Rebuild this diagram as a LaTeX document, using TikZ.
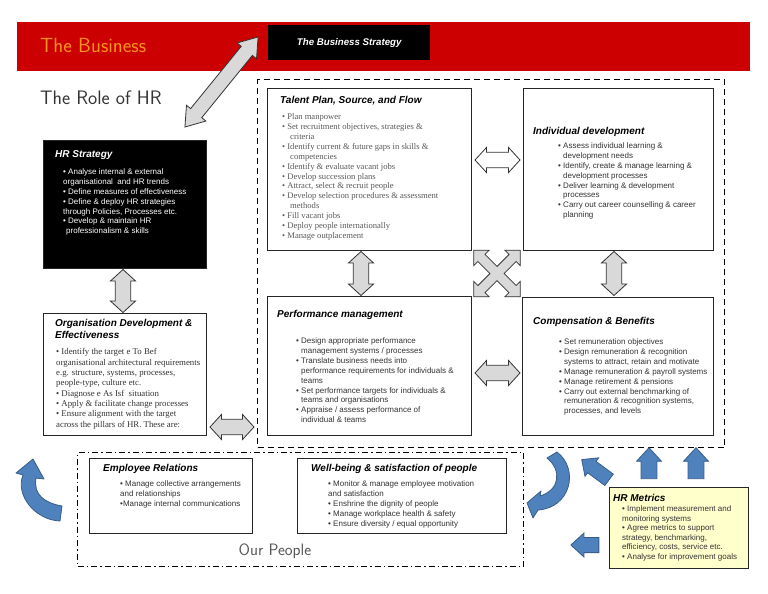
\documentclass[tikz,border=0pt]{standalone}
\usepackage{fontspec}
\setmainfont{Liberation Sans}
\newfontfamily\serifface{Liberation Serif}
\usetikzlibrary{shapes.arrows,calc}
\definecolor{bannerred}{HTML}{CC0000}
\definecolor{bizorange}{HTML}{F7941D}
\definecolor{txtgray}{HTML}{333333}
\definecolor{lightgray2}{HTML}{555555}
\definecolor{arrowgray}{HTML}{D9D9D9}
\definecolor{blueA}{HTML}{4F81BD}
\definecolor{blueB}{HTML}{385D8A}
\definecolor{metricsyellow}{HTML}{FFFFCC}
\tikzset{
 panel/.style={draw=black!85, line width=0.9pt, fill=white, inner sep=0pt, anchor=north west},
 ttl/.style={font=\fontsize{10}{12}\selectfont\bfseries\itshape, inner sep=0pt, anchor=west},
 body/.style={font=\fontsize{8}{9.9}\selectfont, text=txtgray, align=left, inner sep=0pt, anchor=north west},
 sbody/.style={font=\serifface\fontsize{8.6}{9.9}\selectfont, text=txtgray, align=left, inner sep=0pt, anchor=north west},
 garrow/.style={double arrow, draw=black!80, line width=0.8pt, fill=arrowgray, inner xsep=0pt, inner ysep=6pt, double arrow head extend=4pt, double arrow tip angle=95, minimum width=25pt},
 crossarrow/.style={draw=black!80, line width=0.8pt, fill=arrowgray, line join=miter},
 barrow/.style={single arrow, draw=blueB, line width=0.8pt, fill=blueA, inner xsep=0pt, inner ysep=6.5pt, single arrow head extend=4pt, single arrow tip angle=85, minimum width=25pt},
 bigdash/.style={draw=black, line width=1.4pt, dash pattern=on 6pt off 4pt},
 dotdash/.style={draw=black, line width=1.2pt, dash pattern=on 6pt off 3pt on 1.5pt off 3pt},
 hand/.style={font=\sffamily\fontsize{20}{22}\selectfont, inner sep=0pt, anchor=west},
 curvearrow/.style={fill=blueA, draw=blueB, line width=0.8pt, line join=round},
}
\begin{document}
\begin{tikzpicture}[x=1pt,y=-1pt]
\useasboundingbox (0,0) rectangle (768,594);
% banner
\node[fill=bannerred, inner sep=0pt, anchor=north west, minimum width=733pt, minimum height=49pt] (banner) at (17,22) {};
\node[hand, text=bizorange, font=\sffamily\fontsize{20.5}{22}\selectfont] (bizlabel) at (40,45) {The Business};
\node[fill=black, inner sep=0pt, anchor=north west, minimum width=162pt, minimum height=35pt] (bizstrat) at (268,25) {};
\node[font=\fontsize{9.7}{12}\selectfont\bfseries\itshape, text=white, inner sep=0pt] (bizstratT) at (bizstrat.center) {The Business Strategy};
\node[hand, text=txtgray, font=\sffamily\fontsize{19.5}{22}\selectfont] (rolelabel) at (40,98) {The Role of HR};

% dashed pillars area and people area
\node[bigdash, inner sep=0pt, anchor=north west, minimum width=467pt, minimum height=368pt] (pillars) at (257,79) {};
\node[dotdash, inner sep=0pt, anchor=north west, minimum width=446pt, minimum height=114pt] (people) at (77,452) {};
\node[font=\sffamily\fontsize{16.5}{18}\selectfont, text=lightgray2, inner sep=0pt] (peoplelabel) at (275,551) {Our People};

% HR strategy
\node[panel, fill=black, minimum width=163pt, minimum height=128pt] (hrstrat) at (43,140) {};
\node[ttl, text=white] (hrstratT) at (55,155) {HR Strategy};
\node[body, text=white] (hrstratL) at (63,168.5) {• Analyse internal \& external\\organisational\ \ and HR trends\\• Define measures of effectiveness\\• Define \& deploy HR strategies\\through Policies, Processes etc.\\• Develop \& maintain HR\\\hspace*{3pt}professionalism \& skills};

% Org development
\node[panel, minimum width=163pt, minimum height=122pt] (orgdev) at (43,313) {};
\node[ttl, align=left, anchor=north west] (orgdevT) at (55,319.5) {Organisation Development \&\\Effectiveness};
\node[sbody, font=\serifface\fontsize{8.8}{10.3}\selectfont] (orgdevL) at (56,348.5) {• Identify the target e To Bef\\organisational architectural requirements\\e.g. structure, systems, processes,\\people-type, culture etc.\\• Diagnose e As Isf \ situation\\• Apply \& facilitate change processes\\• Ensure alignment with the target\\across the pillars of HR. These are:};

% Talent
\node[panel, minimum width=204pt, minimum height=162pt] (talent) at (267,88) {};
\node[ttl] (talentT) at (280,101) {Talent Plan, Source, and Flow};
\node[sbody, text=black!65] (talentL) at (282,113.5) {• Plan manpower\\• Set recruitment objectives, strategies \&\\\hspace*{8pt}criteria\\• Identify current \& future gaps in skills \&\\\hspace*{8pt}competencies\\• Identify \& evaluate vacant jobs\\• Develop succession plans\\• Attract, select \& recruit people\\• Develop selection procedures \& assessment\\\hspace*{8pt}methods\\• Fill vacant jobs\\• Deploy people internationally\\• Manage outplacement};

% Individual development
\node[panel, minimum width=190pt, minimum height=162pt] (indiv) at (523,88) {};
\node[ttl] (indivT) at (533,132) {Individual development};
\node[body] (indivL) at (558,142.5) {• Assess individual learning \&\\\hspace*{5pt}development needs\\• Identify, create \& manage learning \&\\\hspace*{5pt}development processes\\• Deliver learning \& development\\\hspace*{5pt}processes\\• Carry out career counselling \& career\\\hspace*{5pt}planning};

% Performance
\node[panel, minimum width=204pt, minimum height=139pt] (perf) at (267,296) {};
\node[ttl] (perfT) at (277,315) {Performance management};
\node[body] (perfL) at (296,337.5) {• Design appropriate performance\\\hspace*{5pt}management systems / processes\\• Translate business needs into\\\hspace*{5pt}performance requirements for individuals \&\\\hspace*{5pt}teams\\• Set performance targets for individuals \&\\\hspace*{5pt}teams and organisations\\• Appraise / assess performance of\\\hspace*{5pt}individual \& teams};

% Compensation
\node[panel, minimum width=191pt, minimum height=138pt] (comp) at (522,297) {};
\node[ttl] (compT) at (533,322) {Compensation \& Benefits};
\node[body] (compL) at (559,338.5) {• Set remuneration objectives\\• Design remuneration \& recognition\\\hspace*{5pt}systems to attract, retain and motivate\\• Manage remuneration \& payroll systems\\• Manage retirement \& pensions\\• Carry out external benchmarking of\\\hspace*{5pt}remuneration \& recognition systems,\\\hspace*{5pt}processes, and levels};

% Employee relations
\node[panel, minimum width=163pt, minimum height=75pt] (emprel) at (89,458) {};
\node[ttl] (emprelT) at (103,469) {Employee Relations};
\node[body] (emprelL) at (120,480.5) {• Manage collective arrangements\\and relationships\\•Manage internal communications};

% Well-being
\node[panel, minimum width=209pt, minimum height=75pt] (wellb) at (297,458) {};
\node[ttl] (wellbT) at (311,469) {Well-being \& satisfaction of people};
\node[body, font=\fontsize{8}{10}\selectfont] (wellbL) at (328,480.5) {• Monitor \& manage employee motivation\\and satisfaction\\• Enshrine the dignity of people\\• Manage workplace health \& safety\\• Ensure diversity / equal opportunity};

% HR metrics
\node[panel, fill=metricsyellow, minimum width=139pt, minimum height=81pt] (metrics) at (609,487) {};
\node[ttl] (metricsT) at (613,498) {HR Metrics};
\node[body, font=\fontsize{8}{9.6}\selectfont] (metricsL) at (622,505.5) {• Implement measurement and\\monitoring systems\\• Agree metrics to support\\strategy, benchmarking,\\efficiency, costs, service etc.\\• Analyse for improvement goals};

% gray double arrows
\node[garrow, inner ysep=5pt, double arrow tip angle=70, minimum width=25pt, minimum height=116pt, rotate=50.9] (a-biz) at (221.5,82) {};
\node[garrow, minimum height=43pt, rotate=90] (a-stratorg) at (123,291) {};
\node[garrow, minimum height=44pt] (a-orgpillars) at (232,427) {};
\node[garrow, fill=white, minimum height=45pt] (a-talind) at (497.5,160) {};
\node[garrow, minimum height=44pt, rotate=90] (a-talperf) at (361,273.5) {};
\node[garrow, minimum height=44pt, rotate=90] (a-indcomp) at (614,273.5) {};
\node[garrow, minimum height=45pt] (a-perfcomp) at (497.5,373) {};
% four-way cross arrow in the middle
\begin{scope}[shift={(497,273.5)}, rotate=45]
\draw[crossarrow] (5,5) -- (22,5) -- (22,11) -- (33,0) -- (22,-11) -- (22,-5) -- (5,-5) -- (5,-22) -- (11,-22) -- (0,-33) -- (-11,-22) -- (-5,-22) -- (-5,-5) -- (-22,-5) -- (-22,-11) -- (-33,0) -- (-22,11) -- (-22,5) -- (-5,5) -- (-5,22) -- (-11,22) -- (0,33) -- (11,22) -- (5,22) -- cycle;
\end{scope}

% blue arrows from HR metrics
\node[barrow, minimum height=31pt, rotate=90] (b-up1) at (649,467.5) {};
\node[barrow, minimum height=31pt, rotate=90] (b-up2) at (696,467.5) {};
\node[barrow, inner ysep=6pt, minimum width=23pt, minimum height=34pt, rotate=143.5] (b-diag) at (598.5,472) {};
\node[barrow, minimum width=24pt, minimum height=28pt, rotate=180] (b-left) at (589,545) {};

% curved arrows
\draw[curvearrow] (62,506) .. controls (45,503) and (33,495) .. (36,478) -- (44,479) -- (33,459) -- (16,473) -- (23,475) .. controls (15,495) and (35,520) .. (60,521) -- cycle;
\draw[curvearrow] (547,458) .. controls (562,470) and (560,490) .. (540,496) -- (541,491) -- (527,503) -- (533,518) -- (538,510) .. controls (570,508) and (580,470) .. (557,452) -- cycle;
\end{tikzpicture}
\end{document}
